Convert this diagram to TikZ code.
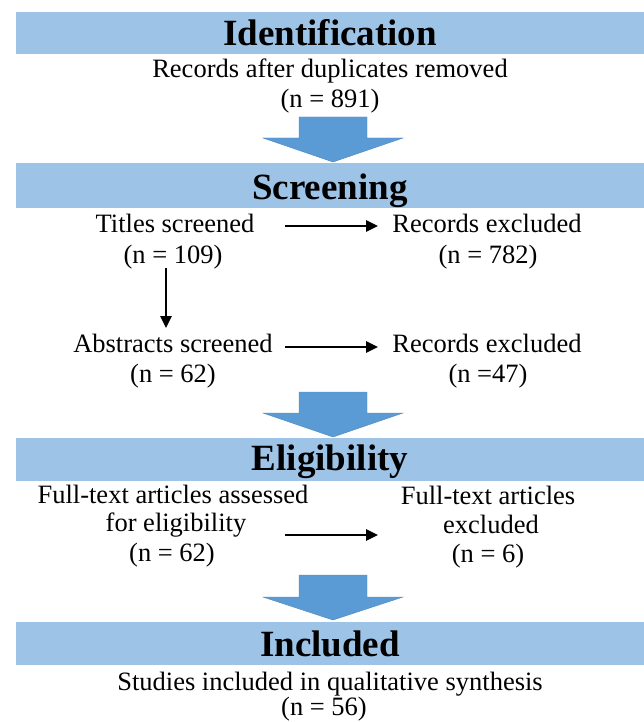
\documentclass[tikz,border=0pt]{standalone}
\usepackage{fontspec}
\setmainfont{Liberation Serif}
\usetikzlibrary{arrows.meta}
\definecolor{bandblue}{HTML}{9DC3E6}
\definecolor{arrowblue}{HTML}{5B9BD5}
\begin{document}
\begin{tikzpicture}[x=1pt,y=-1pt,
  band/.style={fill=bandblue},
  bigarrow/.style={fill=arrowblue, draw=arrowblue!85!black, line width=0.4pt},
  title/.style={anchor=base, inner sep=0pt, font=\fontsize{37}{40}\selectfont\bfseries},
  body/.style={anchor=base, inner sep=0pt, font=\fontsize{26.5}{30}\selectfont},
  conn/.style={line width=2.6pt, -{Triangle[length=12pt,width=11pt]}}]
\useasboundingbox (0,0) rectangle (644,722);

% bands
\fill[band] (16,12) rectangle (644,54);
\fill[band] (16,163) rectangle (644,208);
\fill[band] (16,438) rectangle (644,481);
\fill[band] (16,622) rectangle (644,665);

% block arrows
\draw[bigarrow] (299,117) -- (367,117) -- (367,138) -- (403,138) -- (333,162) -- (263,138) -- (299,138) -- cycle;
\draw[bigarrow] (299,392) -- (367,392) -- (367,413) -- (403,413) -- (333,437) -- (263,413) -- (299,413) -- cycle;
\draw[bigarrow] (299,575) -- (367,575) -- (367,597) -- (403,597) -- (333,620) -- (263,597) -- (299,597) -- cycle;

% titles
\node[title] (tid) at (330,46) {Identification};
\node[title] (tsc) at (330,200) {Screening};
\node[title] (tel) at (330,470) {Eligibility};
\node[title] (tin) at (330,656) {Included};

% identification
\node[body] (id1) at (330,78) {Records after duplicates removed};
\node[body] (id2) at (330,108) {(n = 891)};

% screening
\node[body] (ts1) at (175,232) {Titles screened};
\node[body] (ts2) at (173,263) {(n = 109)};
\node[body] (re1) at (487,232) {Records excluded};
\node[body] (re2) at (488,263) {(n = 782)};
\node[body] (as1) at (173,352) {Abstracts screened};
\node[body] (as2) at (173,382) {(n = 62)};
\node[body] (rx1) at (487,352) {Records excluded};
\node[body] (rx2) at (488,382) {(n =47)};

% eligibility
\node[body] (fa1) at (173,503) {Full-text articles assessed};
\node[body] (fa2) at (176,531) {for eligibility};
\node[body] (fa3) at (172,561) {(n = 62)};
\node[body] (fe1) at (488,504) {Full-text articles};
\node[body] (fe2) at (491,533) {excluded};
\node[body] (fe3) at (488,562) {(n = 6)};

% included
\node[body] (st1) at (330,690) {Studies included in qualitative synthesis};
\node[body] (st2) at (324,715) {(n = 56)};

% connectors
\coordinate (h1s) at (285,226); \coordinate (h1e) at (378,226);
\coordinate (h2s) at (285,347); \coordinate (h2e) at (378,347);
\coordinate (h3s) at (285,535); \coordinate (h3e) at (378,535);
\coordinate (v1s) at (166,268); \coordinate (v1e) at (166,328);
\draw[conn] (h1s) -- (h1e);
\draw[conn] (h2s) -- (h2e);
\draw[conn] (h3s) -- (h3e);
\draw[conn] (v1s) -- (v1e);
\end{tikzpicture}
\end{document}
